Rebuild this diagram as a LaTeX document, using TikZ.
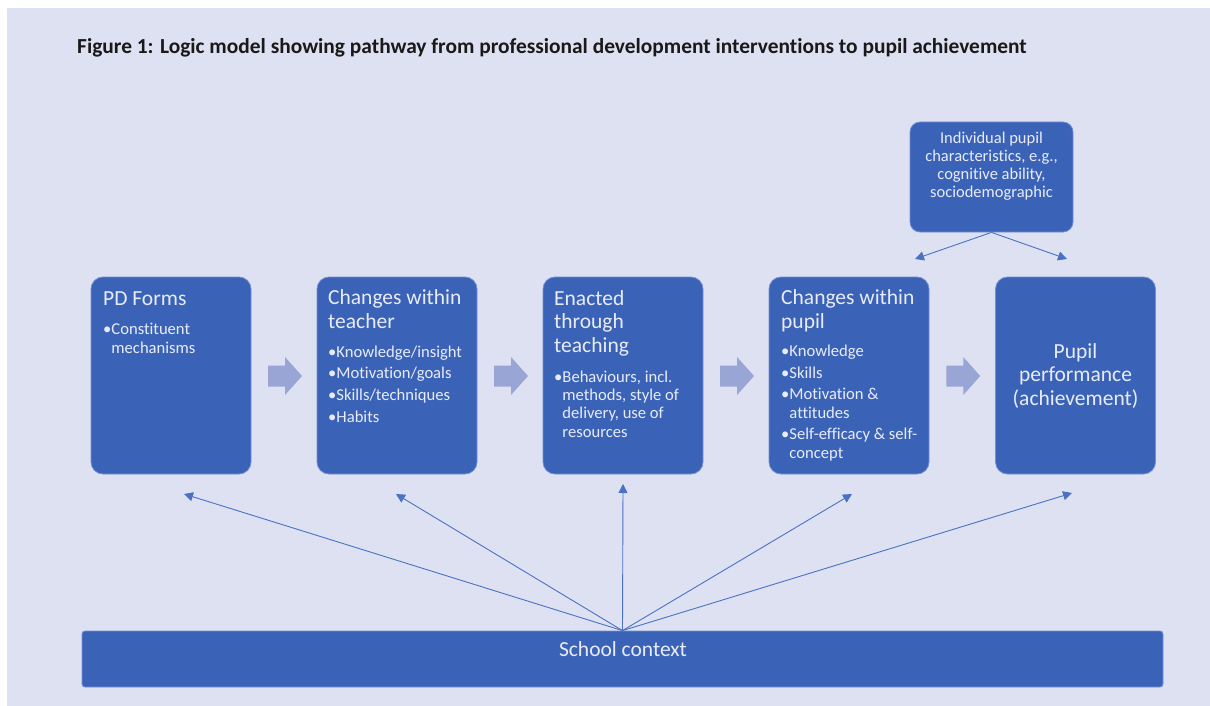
\documentclass[tikz,border=0pt]{standalone}
\usepackage{fontspec}
\setmainfont{Carlito}[Ligatures=NoCommon]
\usetikzlibrary{calc,arrows.meta}
\definecolor{bg}{HTML}{DEE1F1}
\definecolor{boxfill}{HTML}{3A63B8}
\definecolor{boxline}{HTML}{7390D2}
\definecolor{txt}{HTML}{E9ECF8}
\definecolor{chev}{HTML}{98A5D5}
\definecolor{conn}{HTML}{4A72C4}
\newcommand\bu{\textbullet}
\newcommand\ph{\phantom{\textbullet}}
\tikzset{
  box/.style={draw=boxline, line width=0.8pt, fill=boxfill, rounded corners=12pt, inner sep=0pt, minimum width=160pt, minimum height=197pt},
  hd/.style={text=txt, font=\fontsize{21.5}{23.5}\selectfont, align=left, inner sep=0pt, anchor=base west},
  bl/.style={text=txt, font=\fontsize{16.6}{18.3}\selectfont, align=left, inner sep=0pt, anchor=base west},
  link/.style={draw=conn, line width=0.9pt, -{Triangle[length=9pt,width=9pt]}},
  chevshape/.style={fill=chev}
}
\begin{document}
\begin{tikzpicture}[x=1pt,y=-1pt]
\useasboundingbox (0,0) rectangle (1210,706);
\fill[white] (0,0) rectangle (1210,706);
\fill[bg] (7,8) rectangle (1210,706);

\node[anchor=base west, inner sep=0pt, font=\fontsize{21.4}{24}\selectfont\bfseries, text=black!90] (title) at (77,54)
  {Figure 1: Logic model showing pathway from professional development interventions to pupil achievement};

% main boxes
\node[box] (b1) at (171,375.5) {};
\node[box] (b2) at (397,375.5) {};
\node[box] (b3) at (623,375.5) {};
\node[box] (b4) at (849,375.5) {};
\node[box] (b5) at (1075.5,375.5) {};
\node[box, rounded corners=10pt, minimum width=163pt, minimum height=110pt] (top) at (991.5,177) {};
\node[box, rounded corners=3pt, minimum width=1081pt, minimum height=56pt] (sc) at (622.5,659) {};

% texts (anchored at the baseline of the last line)
\node[hd] (h1) at (103,305) {PD Forms};
\node[bl] (l1) at (103,353) {\bu Constituent\\\ph mechanisms};

\node[hd] (h2) at (328,328) {Changes within\\teacher};
\node[bl] (l2) at (328,422) {\bu Knowledge/insight\\[3.3pt]\bu Motivation/goals\\[3.3pt]\bu Skills/techniques\\[3.3pt]\bu Habits};

\node[hd] (h3) at (554,352) {Enacted\\through\\teaching};
\node[bl] (l3) at (554,437) {\bu Behaviours, incl.\\\ph methods, style of\\\ph delivery, use of\\\ph resources};

\node[hd] (h4) at (781,328) {Changes within\\pupil};
\node[bl] (l4) at (781,458) {\bu Knowledge\\[3.3pt]\bu Skills\\[3.3pt]\bu Motivation \&\\\ph attitudes\\[3.3pt]\bu Self-efficacy \& self-\\\ph concept};

\node[hd, align=center, anchor=base] (h5) at (1075.5,405) {Pupil\\performance\\(achievement)};

\node[bl, align=center, anchor=base, font=\fontsize{16.5}{18}\selectfont] (ht) at (991.5,197) {Individual pupil\\characteristics, e.g.,\\cognitive ability,\\sociodemographic};

\node[hd, anchor=base] (hs) at (623,656) {School context};

% chevron arrows
\foreach \a/\b [count=\i] in {b1/b2,b2/b3,b3/b4,b4/b5}{
  \coordinate (c\i) at ($(\a.east)!0.5!(\b.west)+(1,0.5)$);
  \fill[chevshape, shift={(c\i)}] (-17,-10.5) -- (0,-10.5) -- (0,-19) -- (17,0) -- (0,19) -- (0,10.5) -- (-17,10.5) -- cycle;
}

% connectors from school context
\coordinate (o) at (sc.north);
\coordinate (t1) at (184,494);
\coordinate (t2) at (396,494);
\coordinate (t3) at (623,484);
\coordinate (t4) at (852,494);
\coordinate (t5) at (1072,493);
\foreach \i in {1,...,5}{ \draw[link] (o) -- (t\i); }

% connectors from pupil characteristics
\coordinate (u1) at (915,259);
\coordinate (u2) at (1067,259);
\draw[link] (top.south) -- (u1);
\draw[link] (top.south) -- (u2);
\end{tikzpicture}
\end{document}
